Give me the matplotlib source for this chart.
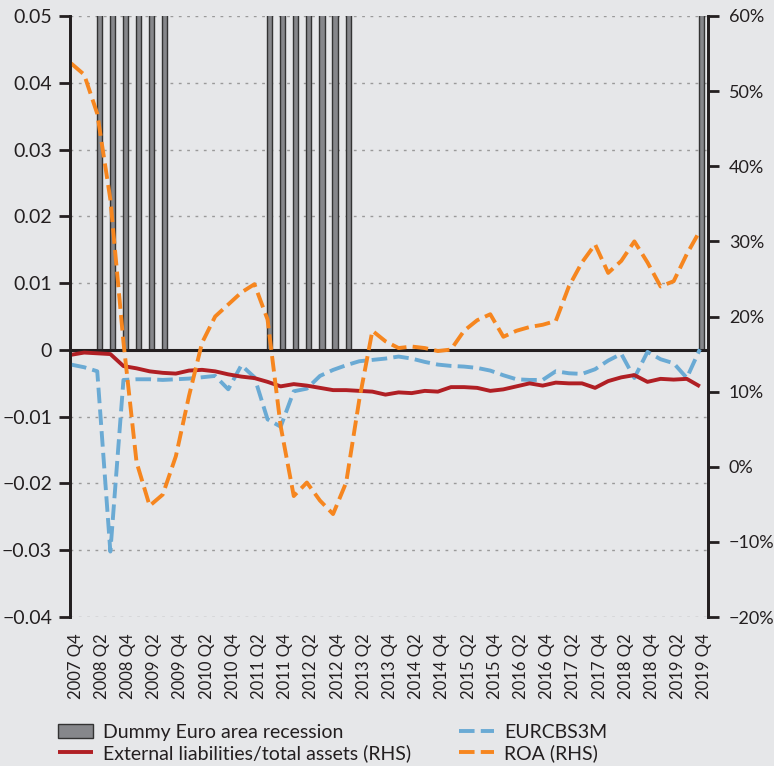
import numpy as np
import matplotlib
matplotlib.use("Agg")
import matplotlib.pyplot as plt
from matplotlib.ticker import FuncFormatter

plt.rcParams['font.family'] = ['Lato', 'DejaVu Sans']

# quarterly data, 2007 Q4 .. 2019 Q4
recession = [0, 0, 1, 1, 1, 1, 1, 1, 0, 0,
             0, 0, 0, 0, 0, 1, 1, 1, 1, 1,
             1, 1, 0, 0, 0, 0, 0, 0, 0, 0,
             0, 0, 0, 0, 0, 0, 0, 0, 0, 0,
             0, 0, 0, 0, 0, 0, 0, 0, 1]

ext_liab = [14.9, 15.2, 15.1, 15.0, 13.4, 13.1, 12.7, 12.5, 12.4, 12.8,
            12.9, 12.7, 12.3, 12.0, 11.8, 11.3, 10.7, 11.0, 10.8, 10.5,
            10.2, 10.2, 10.1, 10.0, 9.6, 9.9, 9.8, 10.1, 10.0, 10.6,
            10.6, 10.5, 10.1, 10.3, 10.7, 11.1, 10.8, 11.2, 11.1, 11.1,
            10.5, 11.4, 11.9, 12.2, 11.3, 11.7, 11.6, 11.7, 10.7]

eurcbs3m = [-0.0022, -0.0026, -0.0032, -0.0302, -0.0045, -0.0044, -0.0044, -0.0045, -0.0044, -0.0043,
            -0.0041, -0.0039, -0.0059, -0.0023, -0.0041, -0.0104, -0.0115, -0.0062, -0.0058, -0.0039,
            -0.0030, -0.0023, -0.0017, -0.0015, -0.0013, -0.0010, -0.0013, -0.0018, -0.0022, -0.0024,
            -0.0025, -0.0027, -0.0031, -0.0038, -0.0044, -0.0045, -0.0045, -0.0032, -0.0035, -0.0036,
            -0.0029, -0.0016, -0.0006, -0.0042, -0.0003, -0.0014, -0.0020, -0.0042, 0.0001]

roa = [53.7, 52.2, 47.0, 35.6, 16.6, 0.6, -5.2, -3.7, 1.4, 9.4,
       16.5, 20.0, 21.6, 23.2, 24.3, 19.6, 5.4, -3.9, -2.1, -4.5,
       -6.3, -2.1, 8.9, 18.1, 16.7, 15.8, 16.0, 15.8, 15.4, 15.6,
       18.1, 19.5, 20.3, 17.3, 18.1, 18.6, 18.9, 19.4, 24.0, 27.2,
       29.6, 25.8, 27.4, 30.0, 27.2, 24.0, 24.7, 28.3, 31.4]

tick_labels = ["2007 Q4", "2008 Q2", "2008 Q4", "2009 Q2", "2009 Q4", "2010 Q2",
               "2010 Q4", "2011 Q2", "2011 Q4", "2012 Q2", "2012 Q4", "2013 Q2",
               "2013 Q4", "2014 Q2", "2014 Q4", "2015 Q2", "2015 Q4", "2016 Q2",
               "2016 Q4", "2017 Q2", "2017 Q4", "2018 Q2", "2018 Q4", "2019 Q2",
               "2019 Q4"]

bg = '#e6e7e9'
dark = '#231f20'
x = np.arange(len(roa))

fig = plt.figure(figsize=(7.74, 7.66), dpi=100, facecolor=bg)
ax = fig.add_axes([70/774, 1-617/766, 638/774, 601/766])
ax.set_facecolor(bg)
ax2 = ax.twinx()

# recession dummy bars (value 1, clipped by the axis)
bars = ax.bar(x + 0.15, recession, width=0.4, color='#86878b',
              edgecolor='#333333', linewidth=1.0, zorder=2,
              label='Dummy Euro area recession')
ax.axhline(0, color=dark, lw=2.2, zorder=3)
for v in np.arange(-0.04, 0.0501, 0.01):
    if abs(v) > 1e-9:
        ax.axhline(v, color='#9a9a9a', lw=1.0, ls=(0, (2, 4)), zorder=1)

l_red, = ax2.plot(x, ext_liab, color='#b01f24', lw=2.8, solid_capstyle='butt',
                  label='External liabilities/total assets (RHS)')
l_blue, = ax.plot(x, eurcbs3m, color='#6aaad4', lw=2.8, dashes=(4, 1.6),
                  zorder=4, label='EURCBS3M')
l_org, = ax2.plot(x, roa, color='#f6861f', lw=2.8, dashes=(4, 1.6),
                  label='ROA (RHS)')

ax.set_xlim(-0.08, 48.62)
ax.set_ylim(-0.04, 0.05)
ax2.set_ylim(-20, 60)

ax.set_yticks(np.arange(-0.04, 0.0501, 0.01))
ax.yaxis.set_major_formatter(FuncFormatter(
    lambda v, p: '0' if abs(v) < 1e-9 else f'{v:.2f}'.replace('-', '\u2212')))
ax2.set_yticks(np.arange(-20, 61, 10))
ax2.yaxis.set_major_formatter(FuncFormatter(
    lambda v, p: f'{v:.0f}%'.replace('-', '\u2212')))

ax.set_xticks(x[::2] + 0.35)
ax.set_xticklabels(tick_labels, rotation=90, fontsize=12, color=dark)
ax.tick_params(axis='x', length=0, pad=12)
ax.tick_params(axis='y', length=8, width=2, color=dark, labelsize=14,
               labelcolor=dark, pad=5)
ax2.tick_params(axis='y', length=8, width=2, color=dark, labelsize=13,
                labelcolor=dark, pad=7)

for a in (ax, ax2):
    a.spines['top'].set_visible(False)
    a.spines['bottom'].set_visible(False)
    a.spines['left'].set_color(dark)
    a.spines['right'].set_color(dark)
    a.spines['left'].set_linewidth(2)
    a.spines['right'].set_linewidth(2)

fig.legend([bars, l_red, l_blue, l_org],
           [h.get_label() for h in (bars, l_red, l_blue, l_org)],
           ncol=2, loc='upper left', bbox_to_anchor=(58/774, 1-724/766),
           frameon=False, fontsize=14, handlelength=1.8, handletextpad=0.5,
           columnspacing=2.5, labelspacing=0.15, borderpad=0, borderaxespad=0,
           labelcolor=dark)

fig.savefig('out.png', dpi=100, facecolor=bg)
